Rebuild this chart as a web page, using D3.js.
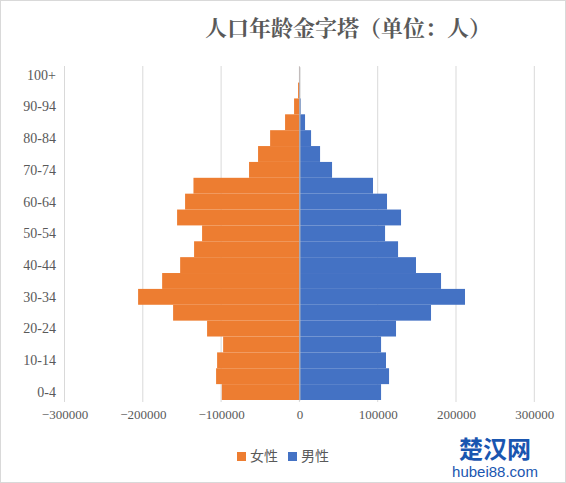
<!DOCTYPE html>
<html><head><meta charset="utf-8">
<script src="https://cdn.jsdelivr.net/npm/d3@7"></script>
<style>body{margin:0;background:#fff}</style>
</head><body>
<script>
var ages = ["0-4","5-9","10-14","15-19","20-24","25-29","30-34","35-39","40-44","45-49","50-54",
  "55-59","60-64","65-69","70-74","75-79","80-84","85-89","90-94","95-99","100+"];
var female = [99100,106400,105100,97400,117900,161300,206000,175300,152300,134500,124300,
  156200,146000,135300,64300,52800,37400,18300,6800,1700,300];
var male = [104300,114500,110600,104300,123400,168100,211500,180900,148900,126000,109400,
  129800,111900,94000,41700,26400,14900,7200,1700,500,200];
var xTicks = [-300000,-200000,-100000,0,100000,200000,300000];

var W = 566, H = 483;
var svg = d3.select("body").append("svg").attr("width", W).attr("height", H)
  .style("font-family", "'Liberation Serif', serif");

svg.append("rect").attr("x", 0.5).attr("y", 0.5).attr("width", W - 1).attr("height", H - 1)
  .attr("fill", "#fff").attr("stroke", "#d9d9d9");

var x = d3.scaleLinear().domain([-300000, 300000]).range([64.5, 534.3]);
var y = d3.scaleBand().domain(ages.slice().reverse()).range([66.7, 400]).paddingInner(0);

// grid
svg.append("g").selectAll("line").data(xTicks).enter().append("line")
  .attr("x1", d => x(d)).attr("x2", d => x(d))
  .attr("y1", 66).attr("y2", 402)
  .attr("stroke", "#d9d9d9").attr("stroke-width", 1);

svg.append("g").selectAll("rect").data(female).enter().append("rect")
  .attr("x", d => x(-d)).attr("width", d => x(0) - x(-d))
  .attr("y", (d, i) => y(ages[i])).attr("height", y.bandwidth())
  .attr("fill", "#ed7d31");

svg.append("g").selectAll("rect").data(male).enter().append("rect")
  .attr("x", x(0)).attr("width", d => x(d) - x(0))
  .attr("y", (d, i) => y(ages[i])).attr("height", y.bandwidth())
  .attr("fill", "#4472c4");

// y axis
var yAxis = svg.append("g").attr("transform", "translate(" + x(0) + ",0)")
  .call(d3.axisLeft(y).tickSize(0).tickFormat(""));
yAxis.select(".domain").attr("stroke", "#bfbfbf");
svg.append("g").selectAll("text").data(ages.filter((d, i) => i % 2 === 0)).enter().append("text")
  .attr("x", 56).attr("y", d => y(d) + y.bandwidth() / 2)
  .attr("dy", "0.35em").attr("text-anchor", "end")
  .attr("font-size", 14).attr("fill", "#595959").text(d => d);

// x axis labels
var xAxis = svg.append("g").attr("transform", "translate(0,402)")
  .call(d3.axisBottom(x).tickValues(xTicks).tickSize(0).tickPadding(8).tickFormat(d3.format("d")));
xAxis.select(".domain").remove();
xAxis.selectAll("text").attr("font-size", 13).attr("fill", "#595959")
  .attr("font-family", "'Liberation Serif', serif");

// title
svg.append("text").attr("x", 348).attr("y", 36).attr("text-anchor", "middle")
  .attr("font-size", 22).attr("font-weight", "bold").attr("fill", "#595959")
  .attr("font-family", "'Noto Serif CJK SC','Noto Sans CJK SC',serif")
  .text("人口年龄金字塔（单位：人）");

// legend
var legend = [["女性", "#ed7d31", 237], ["男性", "#4472c4", 288]];
legend.forEach(function(l) {
  svg.append("rect").attr("x", l[2]).attr("y", 452).attr("width", 9).attr("height", 9).attr("fill", l[1]);
  svg.append("text").attr("x", l[2] + 13).attr("y", 461).attr("font-size", 14)
    .attr("fill", "#595959").attr("font-family", "'Noto Sans CJK SC',sans-serif").text(l[0]);
});

// watermark
svg.append("text").attr("x", 495).attr("y", 458).attr("text-anchor", "middle")
  .attr("font-size", 24).attr("font-weight", "bold").attr("fill", "#1a56b0")
  .attr("font-family", "'Noto Sans CJK SC',sans-serif").text("楚汉网");
svg.append("text").attr("x", 495).attr("y", 477).attr("text-anchor", "middle")
  .attr("font-size", 15).attr("fill", "#1a56b0").attr("font-family", "Arial, sans-serif")
  .text("hubei88.com");
</script>
</body></html>
